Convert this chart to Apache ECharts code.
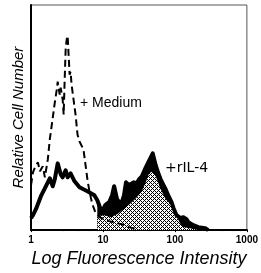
<!DOCTYPE html>
<html>
<head>
<meta charset="utf-8">
<script src="https://cdn.jsdelivr.net/npm/echarts@6/dist/echarts.min.js"></script>
<style>
  html, body { margin: 0; padding: 0; background: #fff; }
  #chart { width: 261px; height: 273px; }
</style>
</head>
<body>
<div id="chart"></div>
<script>
// [fluorescence, relative cell number]
const mediumData = [
  [1.0, 45], [1.065, 58], [1.135, 63], [1.248, 68], [1.33, 59], [1.46, 64],
  [1.558, 53], [1.713, 71], [1.825, 91], [2.007, 113], [2.14, 128], [2.28, 141],
  [2.35, 149], [2.505, 136], [2.586, 143], [2.755, 131], [2.844, 116], [2.936, 151],
  [3.03, 181], [3.128, 191], [3.228, 195], [3.332, 176], [3.44, 156], [3.55, 159],
  [3.664, 146], [3.904, 131], [4.16, 116], [4.43, 96], [4.72, 89], [5.03, 88],
  [5.36, 81], [5.71, 66], [6.08, 51], [6.48, 39], [7.13, 26], [7.84, 18],
  [8.9, 13], [12.2, 9], [17.9, 6], [23, 3], [31.6, 0]
]
const il4Data = [
  [1.0, 12], [1.065, 15], [1.17, 21], [1.373, 34], [1.608, 44], [1.825, 52],
  [2.007, 44], [2.14, 51], [2.35, 67], [2.586, 56], [2.755, 53], [3.03, 60],
  [3.228, 53], [3.55, 57], [4.03, 49], [4.72, 43], [6.08, 39], [7.59, 35],
  [8.35, 30], [9.18, 22], [9.78, 19], [10.76, 25], [12.2, 28], [13.4, 35],
  [14.3, 44], [15.7, 31], [17.9, 26], [19.6, 35], [20.9, 48], [23, 45],
  [24.5, 43], [26.9, 48], [29.6, 47], [31.6, 51], [34.7, 54], [39.4, 63],
  [43.3, 69], [46.2, 73], [49.2, 77], [54.1, 65], [59.5, 56], [63.4, 51],
  [69.7, 45], [74.3, 41], [81.7, 34], [89.8, 28], [95.7, 22], [105.2, 15],
  [119.4, 12], [131, 13], [144.5, 11], [153.8, 8], [180, 5], [211, 3],
  [264, 2], [290, 0]
]
// upper edge of the hatched part
const hatchData = [
  [8.35, 14], [10.4, 15], [13.0, 13], [15.7, 16], [17.9, 19], [21.6, 24],
  [25.3, 28], [29.6, 33], [34.7, 39], [39.4, 48], [43.3, 56], [47.7, 59],
  [54.1, 54], [63.4, 41], [74.3, 31], [86.9, 26], [101.9, 16], [119.4, 6],
  [131, 3], [153.8, 2], [180, 1], [211, 0]
]
const xTicks = [1, 10, 100, 1000]

// black part under the rIL-4 curve (from the gate at ~8 upwards)
const il4Gated = il4Data.filter(d => d[0] >= 8.35)

function hatchPattern () {
  const c = document.createElement('canvas')
  c.width = 4
  c.height = 4
  const ctx = c.getContext('2d')
  ctx.fillStyle = '#fff'
  ctx.fillRect(0, 0, 4, 4)
  ctx.fillStyle = '#000'
  for (let x = 0; x < 4; x++) {
    for (let y = 0; y < 4; y++) {
      if ((x + y) % 4 === 0 || (x - y + 4) % 4 === 0) ctx.fillRect(x, y, 1, 1)
    }
  }
  return c
}

const myChart = echarts.init(document.getElementById('chart'), null, { renderer: 'canvas' })
const option = {
  animation: false,
  backgroundColor: '#fff',
  grid: {
    left: 31,
    right: 12,
    top: 5,
    bottom: 42,
    show: true,
    borderColor: '#555',
    borderWidth: 1
  },
  xAxis: {
    type: 'log',
    logBase: 10,
    min: 1,
    max: 1000,
    name: 'Log Fluorescence Intensity',
    nameLocation: 'middle',
    nameGap: 19,
    nameTextStyle: {
      fontFamily: 'Liberation Sans',
      fontStyle: 'italic',
      fontSize: 18,
      color: '#000'
    },
    axisLine: { lineStyle: { color: '#000', width: 2 } },
    axisTick: { show: true, length: 2, lineStyle: { color: '#000' } },
    minorTick: { show: true, length: 1, lineStyle: { color: '#000' } },
    splitLine: { show: false },
    axisLabel: {
      margin: 5,
      fontFamily: 'Liberation Sans',
      fontWeight: 'bold',
      fontSize: 10,
      color: '#000',
      showMaxLabel: true,
      formatter: v => (xTicks.indexOf(Math.round(v)) >= 0 ? String(Math.round(v)) : '')
    }
  },
  yAxis: {
    type: 'value',
    min: 0,
    max: 226,
    name: 'Relative Cell Number',
    nameLocation: 'middle',
    nameRotate: 90,
    nameGap: 5,
    nameTextStyle: {
      fontFamily: 'Liberation Sans',
      fontStyle: 'italic',
      fontSize: 15,
      color: '#000'
    },
    axisLine: { show: true, lineStyle: { color: '#000', width: 2 } },
    axisTick: { show: false },
    axisLabel: { show: false },
    splitLine: { show: false }
  },
  series: [
    {
      name: 'rIL-4 fill',
      type: 'line',
      data: il4Gated,
      symbol: 'none',
      lineStyle: { width: 0 },
      areaStyle: { color: '#000', opacity: 1 },
      z: 1
    },
    {
      name: 'hatch',
      type: 'line',
      data: hatchData,
      symbol: 'none',
      lineStyle: { width: 0 },
      areaStyle: { color: { image: hatchPattern(), repeat: 'repeat' }, opacity: 1 },
      z: 2
    },
    {
      name: '+rIL-4',
      type: 'line',
      data: il4Data,
      symbol: 'none',
      lineStyle: { color: '#000', width: 4, join: 'round' },
      z: 3
    },
    {
      name: '+ Medium',
      type: 'line',
      data: mediumData,
      symbol: 'none',
      lineStyle: { color: '#000', width: 2, type: [7, 4] },
      z: 4
    }
  ],
  graphic: [
    {
      type: 'text',
      left: 80,
      top: 96,
      style: { text: '+ Medium', font: '14px "Liberation Sans"', fill: '#000' }
    },
    {
      type: 'text',
      left: 165,
      top: 161,
      style: { text: '+rIL-4', font: '14px "DejaVu Sans"', fill: '#000' }
    }
  ]
}
myChart.setOption(option)
</script>
</body>
</html>
